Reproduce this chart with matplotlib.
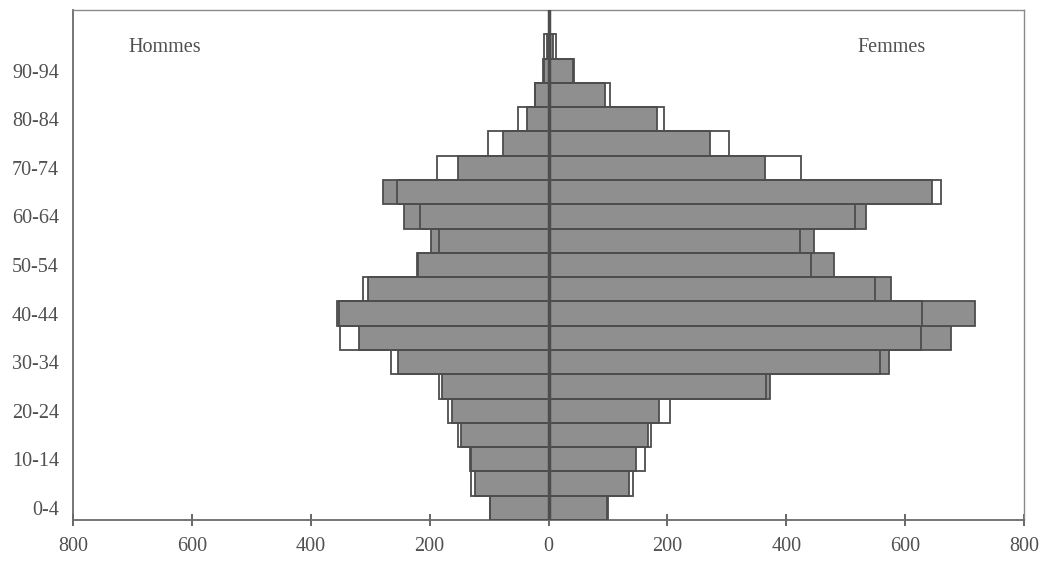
import numpy as np
import matplotlib.pyplot as plt

# Age groups, bottom to top
age_groups = ['0-4', '5-9', '10-14', '15-19', '20-24', '25-29', '30-34', '35-39',
              '40-44', '45-49', '50-54', '55-59', '60-64', '65-69', '70-74',
              '75-79', '80-84', '85-89', '90-94', '95-99']

# Filled (grey) bars
hommes_gris = [98, 123, 130, 147, 163, 180, 254, 319, 355, 304,
               222, 197, 243, 278, 152, 76, 37, 22, 7, 3]
femmes_gris = [99, 136, 148, 167, 186, 372, 573, 677, 717, 577,
               481, 447, 535, 646, 365, 272, 182, 95, 43, 7]

# Outline (white) bars
hommes_blanc = [98, 130, 132, 152, 169, 184, 265, 350, 352, 312,
                220, 185, 217, 255, 187, 101, 51, 22, 10, 7]
femmes_blanc = [100, 142, 162, 173, 204, 366, 557, 627, 629, 550,
                442, 423, 516, 660, 425, 303, 194, 103, 42, 12]

x_ticks = [-800, -600, -400, -200, 0, 200, 400, 600, 800]

fill_color = '#8f8f8f'
edge_color = '#4d4d4d'
text_color = '#505050'

plt.rcParams['font.family'] = ['Liberation Serif', 'DejaVu Serif']

fig = plt.figure(figsize=(10.46, 5.64), dpi=100)
ax = fig.add_axes([73 / 1046, 44 / 564, 951 / 1046, 510 / 564])

y = np.arange(len(age_groups))

# grey bars first, then the outlines on top
ax.barh(y, -np.array(hommes_gris), height=1.0, color=fill_color,
        edgecolor=edge_color, linewidth=1.3, zorder=2)
ax.barh(y, femmes_gris, height=1.0, color=fill_color,
        edgecolor=edge_color, linewidth=1.3, zorder=2)
ax.barh(y, -np.array(hommes_blanc), height=1.0, fill=False,
        edgecolor=edge_color, linewidth=1.3, zorder=3)
ax.barh(y, femmes_blanc, height=1.0, fill=False,
        edgecolor=edge_color, linewidth=1.3, zorder=3)

# centre line
ax.axvline(0, color=edge_color, linewidth=2.5, zorder=4)

ax.set_xlim(-800, 800)
ax.set_ylim(-0.5, 20.5)

ax.set_xticks(x_ticks)
ax.set_xticklabels([str(abs(v)) for v in x_ticks])
ax.set_yticks(y[::2])
ax.set_yticklabels(age_groups[::2])

ax.tick_params(axis='x', direction='inout', length=9, width=1.2,
               color=edge_color, labelsize=14.5, labelcolor=text_color, pad=8)
ax.tick_params(axis='y', length=0, labelsize=14.5, labelcolor=text_color, pad=10)

for side in ['left', 'bottom']:
    ax.spines[side].set_color('#6a6a6a')
    ax.spines[side].set_linewidth(1.3)
for side in ['top', 'right']:
    ax.spines[side].set_color('#8a8a8a')
    ax.spines[side].set_linewidth(1.0)

ax.text(0.058, 0.927, 'Hommes', transform=ax.transAxes, fontsize=14.5,
        color=text_color, va='center', ha='left')
ax.text(0.825, 0.927, 'Femmes', transform=ax.transAxes, fontsize=14.5,
        color=text_color, va='center', ha='left')

fig.savefig('out.png', dpi=100)
